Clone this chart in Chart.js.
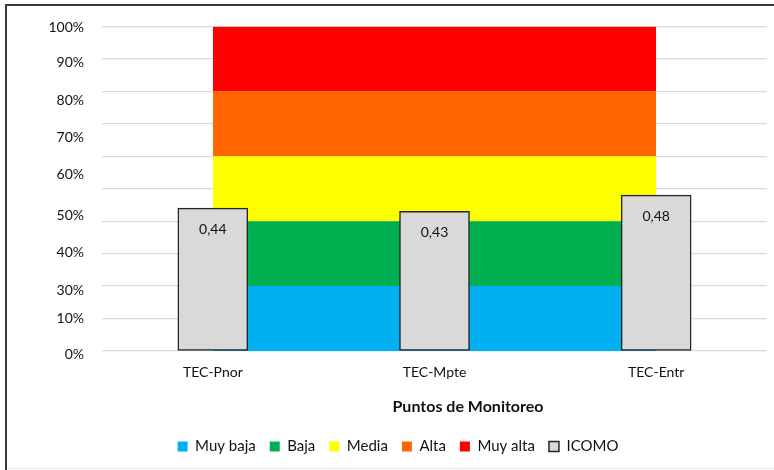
<!DOCTYPE html>
<html>
<head>
<meta charset="utf-8">
<script src="https://cdn.jsdelivr.net/npm/chart.js@4.4.1/dist/chart.umd.min.js"></script>
<style>
  html, body { margin: 0; padding: 0; background: #fff; }
  #wrap { width: 774px; height: 470px; position: relative; }
</style>
</head>
<body>
<div id="wrap"><canvas id="c" width="774" height="470"></canvas></div>
<script>
// ---- data ----
const categories = ['TEC-Pnor', 'TEC-Mpte', 'TEC-Entr'];
const icomo = [0.44, 0.43, 0.48];
const muyBaja = [0.2, 0.2, 0.2];
const baja = [0.2, 0.2, 0.2];
const media = [0.2, 0.2, 0.2];
const alta = [0.2, 0.2, 0.2];
const muyAlta = [0.2, 0.2, 0.2];
const yTickLabels = ['0%', '10%', '30%', '40%', '50%', '60%', '70%', '80%', '90%', '100%'];
const yTickValues = [-0.01, 0.1, 0.186, 0.303, 0.418, 0.543, 0.658, 0.773, 0.888, 0.998];
const xTitle = 'Puntos de Monitoreo';

const FONT = 'Lato, "Open Sans", sans-serif';

function band(label, data, color, first) {
  return {
    type: 'line', label, data,
    backgroundColor: color, borderColor: color, borderWidth: 0,
    pointRadius: 0, pointHoverRadius: 0, tension: 0,
    fill: first ? 'origin' : '-1', stack: 'zonas', order: 2, yAxisID: 'y'
  };
}

const framePlugin = {
  id: 'frame',
  beforeDraw(chart) {
    const ctx = chart.ctx;
    ctx.save();
    ctx.fillStyle = '#fff';
    ctx.fillRect(0, 0, chart.width, chart.height);
    ctx.fillStyle = '#3a3a3a';
    ctx.fillRect(5, 4, chart.width - 5, 2);
    ctx.fillRect(5, 4, 2, chart.height - 4);
    ctx.fillStyle = '#e6e6e6';
    ctx.fillRect(7, 468, chart.width - 7, 1);
    ctx.restore();
  },
  afterLayout(chart) {
    if (chart.legend) { chart.legend.left += 12; chart.legend.right += 12; }
  },
  afterDraw(chart) {
    const ctx = chart.ctx;
    ctx.save();
    // value labels inside ICOMO bars
    const meta = chart.getDatasetMeta(5);
    ctx.font = '14px ' + FONT;
    ctx.fillStyle = '#111';
    ctx.textAlign = 'center';
    ctx.textBaseline = 'middle';
    meta.data.forEach((bar, i) => {
      ctx.fillText(icomo[i].toFixed(2).replace('.', ','), bar.x, bar.y + 21);
    });
    // x axis title
    ctx.font = 'bold 16px ' + FONT;
    ctx.fillText(xTitle, 468, 407);
    ctx.restore();
  }
};

new Chart(document.getElementById('c'), {
  data: {
    labels: categories,
    datasets: [
      band('Muy baja', muyBaja, '#00B0F0', true),
      band('Baja', baja, '#00B050'),
      band('Media', media, '#FFFF00'),
      band('Alta', alta, '#FF6600'),
      band('Muy alta', muyAlta, '#FF0000'),
      {
        type: 'bar', label: 'ICOMO', data: icomo,
        backgroundColor: '#D9D9D9', borderColor: '#262626', borderWidth: 1.5,
        borderSkipped: false, barThickness: 70, stack: 'icomo', order: 1, yAxisID: 'y'
      }
    ]
  },
  options: {
    responsive: false,
    animation: false,
    layout: { padding: { left: 5, right: 7, top: 24, bottom: 6 } },
    plugins: {
      tooltip: { enabled: false },
      legend: {
        position: 'bottom',
        labels: {
          boxWidth: 10, boxHeight: 10, padding: 14,
          font: { family: FONT, size: 15 }, color: '#111',
          sort: (a, b) => a.datasetIndex - b.datasetIndex
        }
      }
    },
    scales: {
      x: {
        offset: true,
        grid: { display: false, drawTicks: false },
        border: { display: false },
        ticks: { font: { family: FONT, size: 14 }, color: '#111', padding: 13 },
        afterFit(s) { s.height = 74; }
      },
      y: {
        stacked: true, min: 0, max: 1, position: 'right',
        ticks: { display: false, stepSize: 0.1 },
        grid: { color: '#D9D9D9', lineWidth: 1.3, drawTicks: false },
        border: { display: false },
        afterFit(s) { s.width = 0; }
      },
      yl: {
        position: 'left', min: 0, max: 1,
        grid: { display: false, drawTicks: false },
        border: { display: false },
        afterBuildTicks(s) { s.ticks = yTickValues.map(v => ({ value: v })); },
        ticks: {
          font: { family: FONT, size: 14 }, color: '#111', padding: 18,
          autoSkip: false,
          callback: (v, i) => yTickLabels[i]
        },
        afterFit(s) { s.width = 97; }
      }
    }
  },
  plugins: [framePlugin]
});
</script>
</body>
</html>
